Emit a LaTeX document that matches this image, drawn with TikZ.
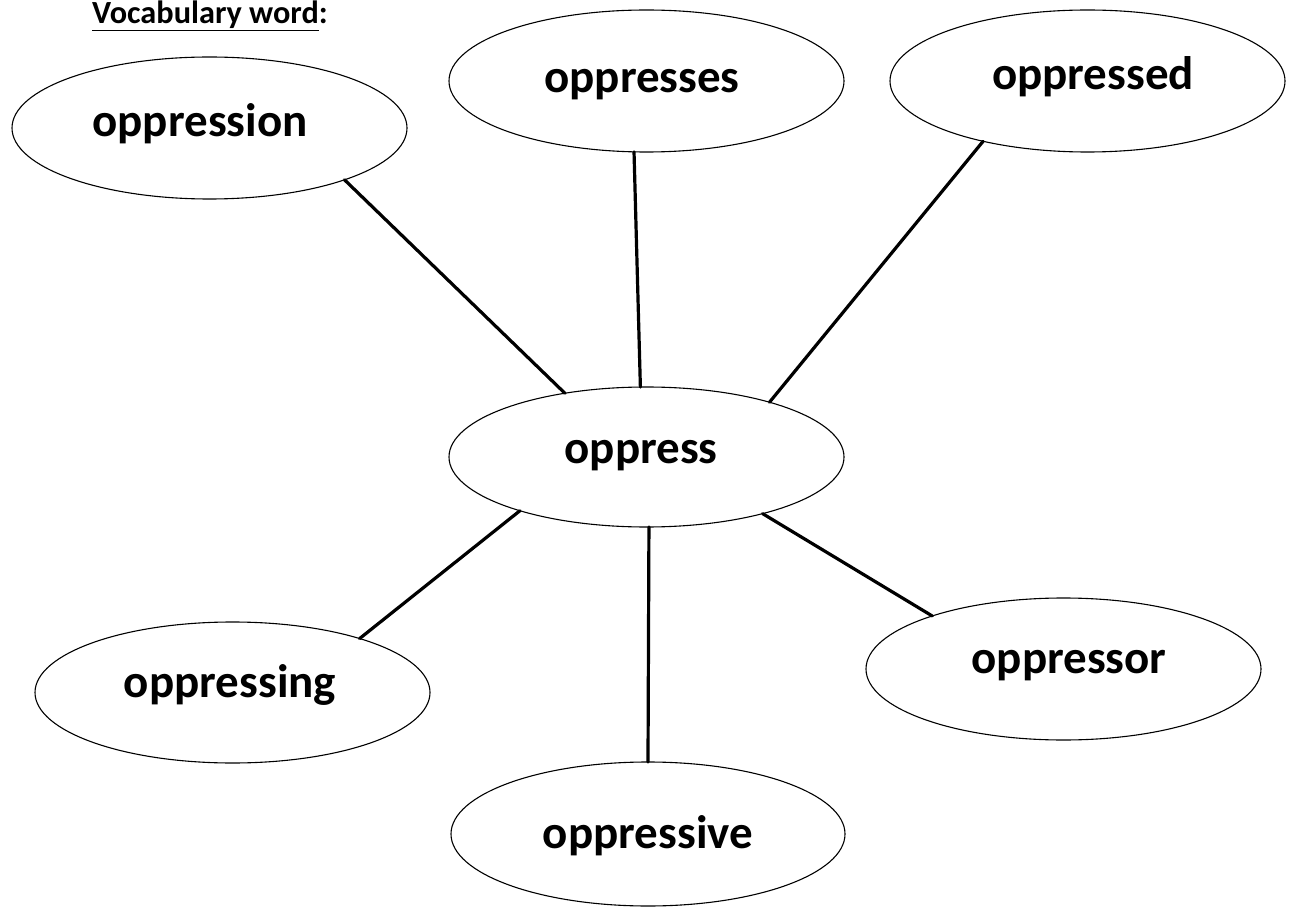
\documentclass[tikz,border=0pt]{standalone}
\usepackage{fontspec}
\setmainfont{Carlito}
\usetikzlibrary{shapes.geometric}
\tikzset{
  bubble/.style={draw=black, line width=1.1pt, ellipse, minimum width=395pt, minimum height=142pt, inner sep=0pt, outer sep=0pt},
  word/.style={font=\fontsize{47}{50}\selectfont\bfseries, anchor=base, inner sep=0pt},
  link/.style={line width=3.2pt, line cap=round}
}
\begin{document}
\begin{tikzpicture}[x=1pt,y=-1pt]
\useasboundingbox (0,0) rectangle (1291,909);
\node[anchor=base west, inner sep=0pt, font=\fontsize{32.3}{34}\selectfont\bfseries] (title) at (92,23.5) {\underline{Vocabulary word}:};
\node[bubble] (e1) at (209.5,128) {};
\node[bubble] (e2) at (646.5,81) {};
\node[bubble] (e3) at (1087.5,81) {};
\node[bubble, minimum height=140pt] (c) at (646.5,457) {};
\node[bubble, minimum height=141pt] (e4) at (232.5,692.5) {};
\node[bubble] (e5) at (1063.5,669) {};
\node[bubble, minimum width=394pt, minimum height=144pt] (e6) at (648,834) {};
\node[word] (t1) at (200,137) {oppression};
\node[word] (t2) at (642,93) {oppresses};
\node[word] (t3) at (1093,90) {oppressed};
\node[word] (tc) at (641,463) {oppress};
\node[word] (t4) at (230,697) {oppressing};
\node[word] (t5) at (1069,673) {oppressor};
\node[word] (t6) at (648,848) {oppressive};
\draw[link] (e1.-21.65) -- (c.142.3);
\draw[link] (e2.260.8) -- (c.95.3);
\draw[link] (e3.210) -- (c.24);
\draw[link] (e4.23.5) -- (c.203.4);
\draw[link] (e6.90) -- (c.272.8);
\draw[link] (e5.158.9) -- (c.334.8);
\end{tikzpicture}
\end{document}
